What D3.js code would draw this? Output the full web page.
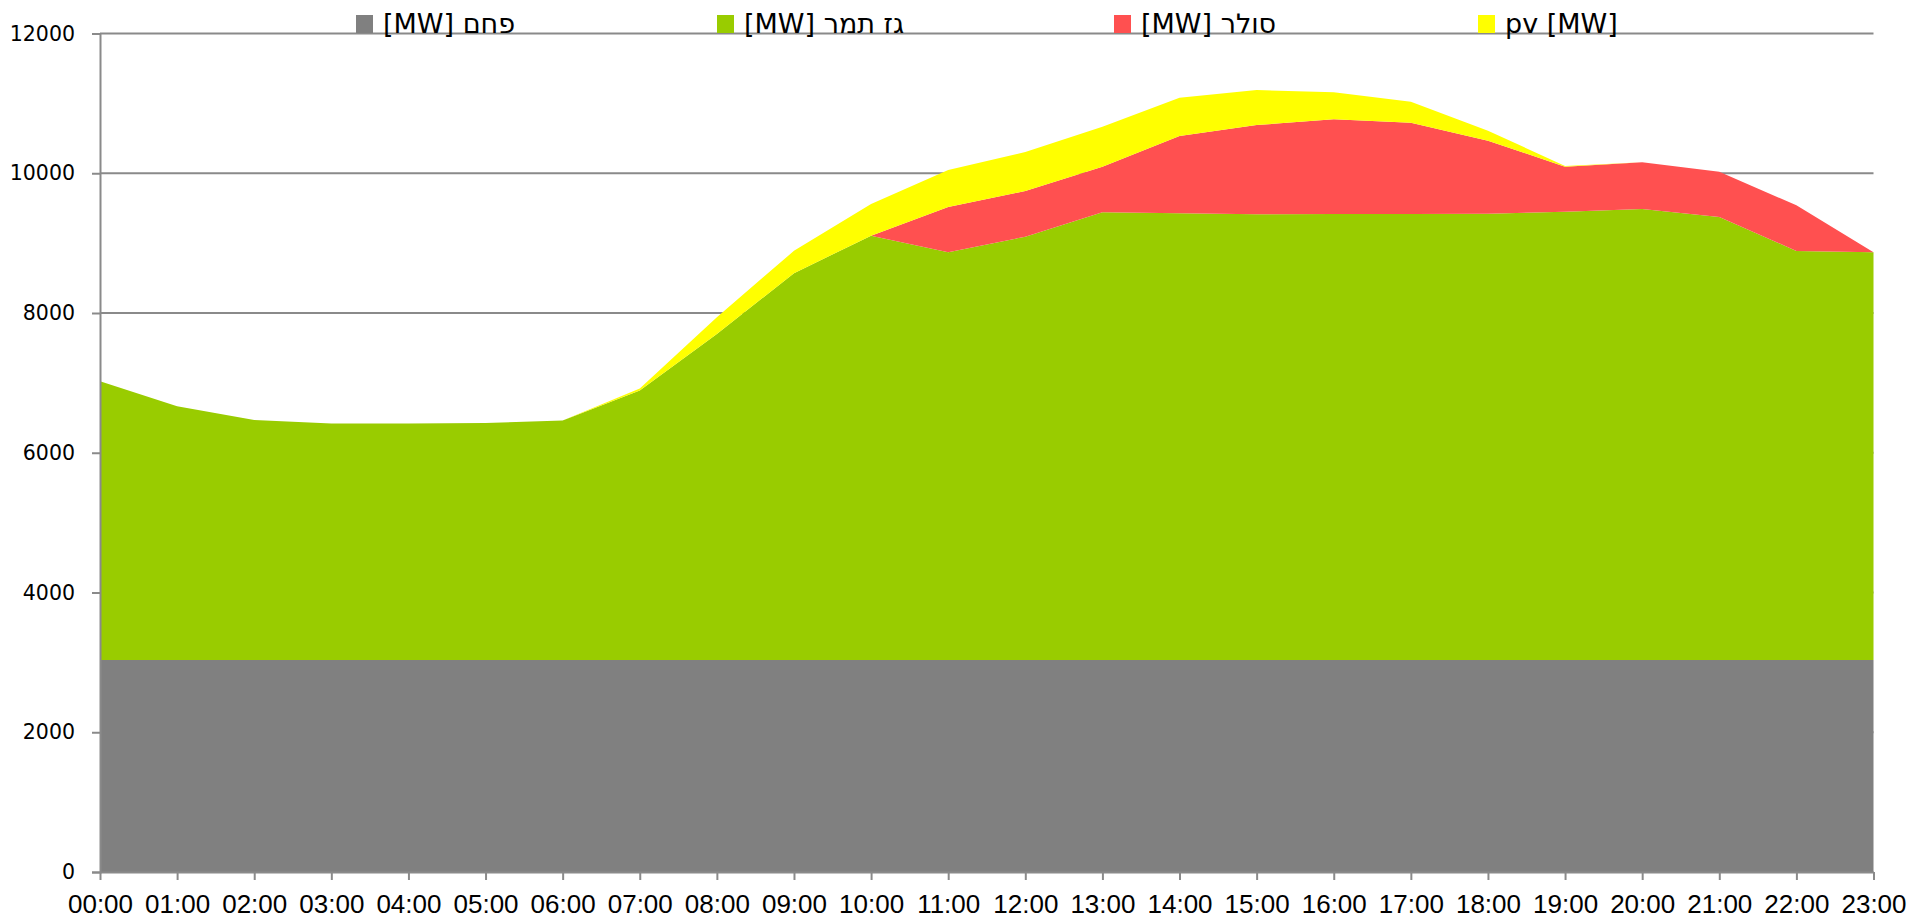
<!DOCTYPE html>
<html>
<head>
<meta charset="utf-8">
<script src="https://cdn.jsdelivr.net/npm/d3@7"></script>
<style>
  html, body { margin: 0; padding: 0; background: #ffffff; }
  svg { display: block; }
</style>
</head>
<body>
<svg id="chart" width="1915" height="920"></svg>
<script>
// ---- data ----
const hours = ["00:00","01:00","02:00","03:00","04:00","05:00","06:00","07:00","08:00","09:00","10:00","11:00",
               "12:00","13:00","14:00","15:00","16:00","17:00","18:00","19:00","20:00","21:00","22:00","23:00"];
const coal  = [3035,3035,3035,3035,3035,3035,3035,3035,3035,3035,3035,3035,3035,3035,3035,3035,3035,3035,3035,3035,3035,3035,3035,3035];
const gas   = [3990,3630,3435,3385,3385,3390,3425,3855,4665,5535,6072,5834,6057,6406,6392,6378,6382,6382,6387,6415,6454,6339,5853,5834];
const solar = [0,0,0,0,0,0,0,0,0,0,0,648,654,653,1106,1277,1355,1306,1044,644,668,648,653,0];
const pv    = [0,0,0,0,0,0,0,30,240,320,453,529,558,572,548,501,386,301,143,10,0,0,0,0];
const seriesKeys   = ["coal","gas","solar","pv"];
const seriesLabels = ["[MW] פחם","[MW] גז תמר","[MW] סולר","pv [MW]"];
const seriesColors = ["#808080","#99CC00","#FF5050","#FFFF00"];
const yTicks = [0,2000,4000,6000,8000,10000,12000];

(function () {
// ---- build table ----
const rows = hours.map((h,i) => ({hour:h, coal:coal[i], gas:gas[i], solar:solar[i], pv:pv[i]}));

const svg = d3.select("#chart");
const pLeft = 100, pRight = 1873.5, pTop = 33.5, pBottom = 872;

const x = d3.scalePoint().domain(hours).range([pLeft, pRight]);
const y = d3.scaleLinear().domain([0, 12000]).range([pBottom, pTop]);

// gridlines
svg.append("g").selectAll("line").data(yTicks.filter(d => d > 0)).join("line")
  .attr("x1", pLeft).attr("x2", pRight)
  .attr("y1", d => y(d)).attr("y2", d => y(d))
  .attr("stroke", "#8a8a8a").attr("stroke-width", 2);

// stacked areas
const stacked = d3.stack().keys(seriesKeys)(rows);
const area = d3.area()
  .x(d => x(d.data.hour))
  .y0(d => y(d[0]))
  .y1(d => y(d[1]));
svg.append("g").selectAll("path").data(stacked).join("path")
  .attr("d", area)
  .attr("fill", (d,i) => seriesColors[i]);

// axes
const yAxis = d3.axisLeft(y).tickValues(yTicks).tickSize(8).tickPadding(17).tickFormat(d3.format("d"));
const gy = svg.append("g").attr("transform", `translate(${pLeft},0)`).call(yAxis);
gy.select(".domain").attr("stroke", "#8a8a8a").attr("stroke-width", 2);
gy.selectAll(".tick line").attr("stroke", "#8a8a8a").attr("stroke-width", 2);
gy.selectAll("text").attr("font-family", "'DejaVu Sans', Verdana, sans-serif")
  .attr("font-size", 20.5).attr("fill", "#000");

const xAxis = d3.axisBottom(x).tickSize(8).tickSizeOuter(0);
const gx = svg.append("g").attr("transform", `translate(0,${pBottom})`).call(xAxis);
gx.select(".domain").attr("stroke", "#8a8a8a").attr("stroke-width", 2);
gx.selectAll(".tick line").attr("stroke", "#8a8a8a").attr("stroke-width", 2);
gx.selectAll("text").attr("font-family", "'Liberation Sans', Arial, sans-serif")
  .attr("font-size", 26).attr("fill", "#000").attr("y", 41).attr("dy", null);

// legend
const legendX = [356, 717, 1114, 1478];
const lg = svg.append("g").selectAll("g").data(seriesKeys).join("g")
  .attr("transform", (d,i) => `translate(${legendX[i]},0)`);
lg.append("rect").attr("x", 0).attr("y", 15).attr("width", 17).attr("height", 18)
  .attr("fill", (d,i) => seriesColors[i]);
lg.append("text").attr("x", 27).attr("y", 33)
  .attr("font-family", "'DejaVu Sans', Verdana, sans-serif").attr("font-size", 27)
  .attr("direction", "ltr").attr("fill", "#000")
  .text((d,i) => seriesLabels[i]);
})();
</script>
</body>
</html>
